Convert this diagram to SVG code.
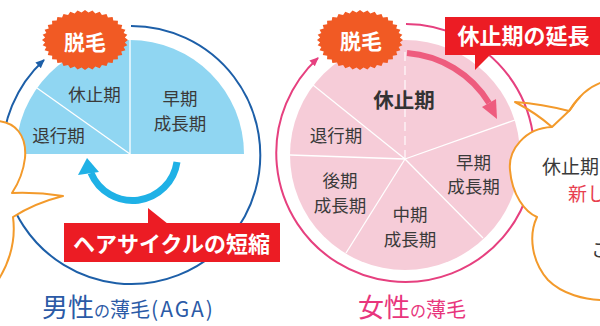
<svg xmlns="http://www.w3.org/2000/svg" width="600" height="326" viewBox="0 0 600 326">
<style>
text{font-family:"Noto Sans CJK JP","Noto Sans",sans-serif}
.lbl{font-size:17.5px;fill:#3a3a3a;text-anchor:middle}
.badge-t{font-size:21px;font-weight:700;fill:#fff;text-anchor:middle}
.red-t{font-size:22px;font-weight:700;fill:#fff;text-anchor:middle}
.divw{stroke:#fff;stroke-width:1.3;fill:none}
.bubble{fill:#fff;stroke:#f39a2b;stroke-width:2;stroke-linejoin:round}
.tail{fill:none;stroke:#f39a2b;stroke-width:2;stroke-linejoin:round}
.redbox{fill:#ec1c24}
.btxt{font-size:19px;fill:#3a3a3a}
</style>
<defs>
<polygon id="spiky" fill="#f15a24" points="43,0 39.85,2.4 42.35,5.21 38.64,7.12 40.41,10.26 36.25,11.62 37.24,15 32.77,15.77 32.94,19.28 28.28,19.45 27.64,22.98 22.94,22.53 21.5,25.98 16.9,24.92 14.71,28.19 10.35,26.56 7.47,29.54 3.49,27.4 0,30 -3.49,27.4 -7.47,29.54 -10.35,26.56 -14.71,28.19 -16.9,24.92 -21.5,25.98 -22.94,22.53 -27.64,22.98 -28.28,19.45 -32.94,19.28 -32.77,15.77 -37.24,15 -36.25,11.62 -40.41,10.26 -38.64,7.12 -42.35,5.21 -39.85,2.4 -43,0 -39.85,-2.4 -42.35,-5.21 -38.64,-7.12 -40.41,-10.26 -36.25,-11.62 -37.24,-15 -32.77,-15.77 -32.94,-19.28 -28.28,-19.45 -27.64,-22.98 -22.94,-22.53 -21.5,-25.98 -16.9,-24.92 -14.71,-28.19 -10.35,-26.56 -7.47,-29.54 -3.49,-27.4 0,-30 3.49,-27.4 7.47,-29.54 10.35,-26.56 14.71,-28.19 16.9,-24.92 21.5,-25.98 22.94,-22.53 27.64,-22.98 28.28,-19.45 32.94,-19.28 32.77,-15.77 37.24,-15 36.25,-11.62 40.41,-10.26 38.64,-7.12 42.35,-5.21 39.85,-2.4"/>
<marker id="arrBlue" markerWidth="10" markerHeight="10" refX="8" refY="5" orient="auto" markerUnits="userSpaceOnUse"><path d="M0,1 L9,5 L0,9 z" fill="#1d5fa8"/></marker>
<marker id="arrPink" markerWidth="10" markerHeight="10" refX="8" refY="5" orient="auto" markerUnits="userSpaceOnUse"><path d="M0,1 L9,5 L0,9 z" fill="#e6407f"/></marker>
</defs>

<g id="connectors">
<path id="male-cycle" d="M131 26 A129 129 0 1 1 44 60" fill="none" stroke="#1d5fa8" stroke-width="2" marker-end="url(#arrBlue)"/>
<path id="female-cycle" d="M406 24 A129 129 0 1 1 318 58" fill="none" stroke="#e6407f" stroke-width="2" marker-end="url(#arrPink)"/>
</g>

<g id="male-pie">
<path d="M16 154 A114 114 0 0 1 244 154 Z" fill="#90d6f2"/>
<line class="divw" x1="130" y1="154" x2="130" y2="40"/>
<line class="divw" x1="130" y1="154" x2="37" y2="88"/>
<text class="lbl" x="94.5" y="100.5">休止期</text>
<text class="lbl" x="58.5" y="142">退行期</text>
<text class="lbl" x="180" y="104.5">早期</text>
<text class="lbl" x="180" y="130">成長期</text>
</g>

<g id="male-shorten-arrow">
<path d="M177 162 A45 45 0 0 1 91 173" fill="none" stroke="#1fb1e6" stroke-width="7"/>
<polygon points="87,158 78,175 99,172" fill="#1fb1e6"/>
</g>

<g id="left-bubble">
<path class="bubble" d="M-3 121 C15 122 27 135 25 158 C23 175 16 187 12 193 Q38 192 63 196 Q35 203 13 217 C16 240 10 262 -3 282 Z"/>
</g>

<g id="male-badge">
<use href="#spiky" x="85" y="40"/>
<text class="badge-t" x="85" y="49.5">脱毛</text>
</g>

<g id="male-label">
<polygon class="redbox" points="148,208 148,224 168,224"/>
<rect class="redbox" x="64" y="223" width="216" height="39"/>
<text class="red-t" x="171.5" y="251.5">ヘアサイクルの短縮</text>
</g>

<g id="male-title" fill="#2b5aa6">
<text x="42" y="317"><tspan font-size="26">男性</tspan><tspan font-size="16">の</tspan><tspan font-size="20">薄毛</tspan><tspan font-size="21" dx="1" letter-spacing="2">(AGA)</tspan></text>
</g>

<g id="female-pie">
<circle cx="405" cy="155" r="115" fill="#f6ccd8"/>
<line class="divw" x1="405" y1="159" x2="313" y2="85"/>
<line class="divw" x1="405" y1="159" x2="290" y2="155"/>
<line class="divw" x1="405" y1="159" x2="346" y2="253"/>
<line class="divw" x1="405" y1="159" x2="483" y2="238"/>
<line class="divw" x1="405" y1="159" x2="515" y2="120"/>
<line x1="405" y1="159" x2="405" y2="50" stroke="#fff" stroke-width="1.3" stroke-dasharray="9 5" opacity="0.85"/>
<text class="lbl" x="404" y="108" style="font-size:20.5px;font-weight:700;fill:#333">休止期</text>
<text class="lbl" x="336" y="142">退行期</text>
<text class="lbl" x="340" y="187">後期</text>
<text class="lbl" x="340" y="212">成長期</text>
<text class="lbl" x="410" y="221">中期</text>
<text class="lbl" x="410" y="246">成長期</text>
<text class="lbl" x="473.5" y="168.5">早期</text>
<text class="lbl" x="473.5" y="193">成長期</text>
</g>

<g id="female-extend-arrow">
<path d="M407 53 A106 106 0 0 1 489 103" fill="none" stroke="#ee5c7e" stroke-width="6"/>
<polygon points="497,119 482,107 496,99" fill="#ee5c7e"/>
</g>

<g id="female-badge">
<use href="#spiky" x="360" y="40"/>
<text class="badge-t" x="361" y="48.5">脱毛</text>
</g>

<g id="female-label">
<polygon class="redbox" points="475,54 491,54 475,70"/>
<rect class="redbox" x="445" y="17" width="160" height="38"/>
<text class="red-t" x="523.5" y="43.5">休止期の延長</text>
</g>

<g id="right-bubble">
<path class="bubble" d="M603 82 C590 86 578 97 570 110 L552 127 C525 128 508 150 510 170 C512 195 525 212 537 217 C528 236 532 262 548 280 C562 294 585 300 603 300 Z"/>
<path class="tail" d="M580 97 C576 101 572 106 569 111 Q542 104 515 102 Q536 113 552 127"/>
<text class="btxt" x="542" y="174">休止期</text>
<text class="btxt" x="568" y="201" style="fill:#e8404f">新し</text>
<text class="btxt" x="591" y="257">こ</text>
</g>

<g id="female-title" fill="#e8357c">
<text x="358" y="317"><tspan font-size="26">女性</tspan><tspan font-size="16">の</tspan><tspan font-size="20">薄毛</tspan></text>
</g>
</svg>
